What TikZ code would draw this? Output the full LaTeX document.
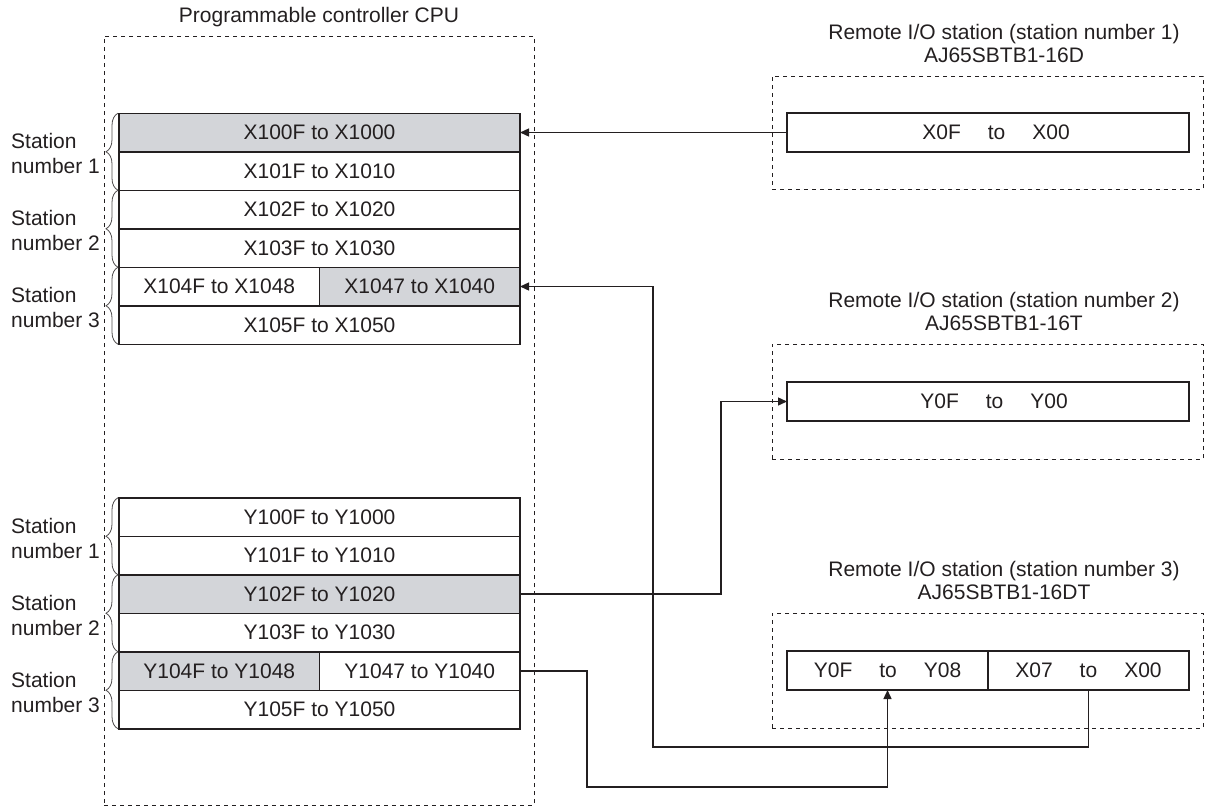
\documentclass[tikz,border=0pt]{standalone}
\usepackage{fontspec}
\setmainfont{Liberation Sans}
\usetikzlibrary{positioning,arrows.meta,decorations.pathreplacing}
\definecolor{ink}{RGB}{35,31,32}
\definecolor{regfill}{RGB}{211,213,217}
\newcommand{\tosep}{\hspace{27pt}}

\begin{document}
\begin{tikzpicture}[x=1pt, y=-1pt,
  every node/.style={font=\fontsize{21}{25}\selectfont, text=ink},
  reg/.style={draw=ink, line width=1.5pt, minimum width=401pt, minimum height=38.5pt, inner sep=0pt, outer sep=0pt},
  halfreg/.style={reg, minimum width=200.5pt},
  io/.style={draw=ink, line width=1.5pt, minimum width=402pt, minimum height=39pt, inner sep=0pt, outer sep=0pt},
  halfio/.style={io, minimum width=201pt},
  hot/.style={fill=regfill},
  frame/.style={draw=ink, dash pattern=on 4pt off 4pt, line width=1pt, inner sep=0pt, outer sep=0pt},
  lab/.style={align=left, anchor=west, inner sep=0pt},
  ttl/.style={align=center, font=\fontsize{21}{23}\selectfont},
  sig/.style={-{Triangle[length=9pt,width=8pt]}, draw=ink, line width=1.4pt},
  grp/.style={decorate, decoration={brace, amplitude=12pt}, draw=ink!80, line width=0.8pt}]

\useasboundingbox (0,0) rectangle (1206,807);

% CPU side
\node[frame, minimum width=430pt, minimum height=769pt] (cpu) at (319,420.5) {};
\node (cputtl) at (319,17) {Programmable controller CPU};

\node[reg, hot] (x0) at (319.5,132.5) {X100F to X1000};
\node[reg, below=0pt of x0] (x1) {X101F to X1010};
\node[reg, below=0pt of x1] (x2) {X102F to X1020};
\node[reg, below=0pt of x2] (x3) {X103F to X1030};
\node[halfreg, anchor=north west] (x4a) at (x3.south west) {X104F to X1048};
\node[halfreg, hot, right=0pt of x4a] (x4b) {X1047 to X1040};
\node[reg, anchor=north west] (x5) at (x4a.south west) {X105F to X1050};

\node[reg] (y0) at (319.5,517) {Y100F to Y1000};
\node[reg, below=0pt of y0] (y1) {Y101F to Y1010};
\node[reg, hot, below=0pt of y1] (y2) {Y102F to Y1020};
\node[reg, below=0pt of y2] (y3) {Y103F to Y1030};
\node[halfreg, hot, anchor=north west] (y4a) at (y3.south west) {Y104F to Y1048};
\node[halfreg, right=0pt of y4a] (y4b) {Y1047 to Y1040};
\node[reg, anchor=north west] (y5) at (y4a.south west) {Y105F to Y1050};

% station groups
\draw[grp] ([xshift=-1pt]x1.south west) -- ([xshift=-1pt]x0.north west);
\draw[grp] ([xshift=-1pt]x3.south west) -- ([xshift=-1pt]x2.north west);
\draw[grp] ([xshift=-1pt]x5.south west) -- ([xshift=-1pt]x4a.north west);
\draw[grp] ([xshift=-1pt]y1.south west) -- ([xshift=-1pt]y0.north west);
\draw[grp] ([xshift=-1pt]y3.south west) -- ([xshift=-1pt]y2.north west);
\draw[grp] ([xshift=-1pt]y5.south west) -- ([xshift=-1pt]y4a.north west);

\node[lab] (sx1) at (11,153) {Station\\number 1};
\node[lab] (sx2) at (11,230) {Station\\number 2};
\node[lab] (sx3) at (11,307) {Station\\number 3};
\node[lab] (sy1) at (11,538) {Station\\number 1};
\node[lab] (sy2) at (11,615) {Station\\number 2};
\node[lab] (sy3) at (11,692) {Station\\number 3};

% remote stations
\node[frame, minimum width=431pt, minimum height=113pt] (r1) at (987.5,132.5) {};
\node[ttl] (r1ttl) at (1004,43.5) {Remote I/O station (station number 1)\\AJ65SBTB1-16D};
\node[io] (r1in) at (988,132.5) {};
\node (r1txt) at ([xshift=8]r1in.center) {X0F\tosep to\tosep X00};

\node[frame, minimum width=431pt, minimum height=115pt] (r2) at (987.5,401.5) {};
\node[ttl] (r2ttl) at (1004,311.5) {Remote I/O station (station number 2)\\AJ65SBTB1-16T};
\node[io] (r2in) at (988,401.5) {};
\node (r2txt) at ([xshift=6]r2in.center) {Y0F\tosep to\tosep Y00};

\node[frame, minimum width=431pt, minimum height=115pt] (r3) at (987.5,670.5) {};
\node[ttl] (r3ttl) at (1004,580.5) {Remote I/O station (station number 3)\\AJ65SBTB1-16DT};
\node[halfio] (r3y) at (887.5,670.5) {Y0F\tosep to\tosep Y08};
\node[halfio, right=0pt of r3y] (r3x) {X07\tosep to\tosep X00};

% refresh lines
\coordinate (j1) at (653,747);
\draw[sig] (r1in.west) -- (x0.east);
\draw[sig] (r3x.south) |- (j1) |- (x4b.east);
\draw[sig] (y2.east) -- ++(201,0) |- (r2in.west);
\draw[sig] (y4b.east) -- ++(67,0) -- ++(0,116) -| (r3y.south);
\end{tikzpicture}
\end{document}
